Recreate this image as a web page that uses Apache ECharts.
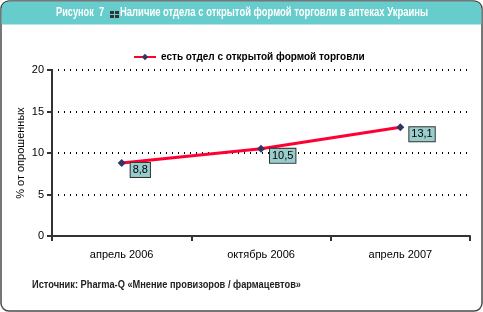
<!DOCTYPE html>
<html>
<head>
<meta charset="utf-8">
<script src="https://cdn.jsdelivr.net/npm/echarts@6/dist/echarts.min.js"></script>
<style>
  html, body { margin: 0; padding: 0; background: #fff; }
  #chart { width: 483px; height: 312px; }
</style>
</head>
<body>
<div id="chart"></div>
<script>
  // данные с рисунка
  var categories = ['апрель 2006', 'октябрь 2006', 'апрель 2007'];
  var values = [8.8, 10.5, 13.1];
  var seriesName = 'есть отдел с открытой формой торговли';
  var yTicks = [0, 5, 10, 15, 20];

  var sans = '"Liberation Sans", Arial, sans-serif';

  // узкий шрифт недоступен — сжимаем обычный по ширине
  var ctx = document.createElement('canvas').getContext('2d');
  function squeezed(text, font, x, y, width, color) {
    ctx.font = font;
    var w = ctx.measureText(text).width;
    return {
      type: 'text', z: 3, x: x, y: y, scaleX: width / w, scaleY: 1,
      style: { text: text, font: font, fill: color, verticalAlign: 'middle', align: 'left' }
    };
  }

  var chart = echarts.init(document.getElementById('chart'));

  chart.setOption({
    animation: false,
    backgroundColor: '#fff',
    graphic: [
      // рамка
      {
        type: 'rect', z: 0,
        shape: { x: 1, y: 1, width: 481, height: 310, r: 8 },
        style: { fill: '#fff', stroke: '#4a4a4a', lineWidth: 1.5 }
      },
      // заголовок
      {
        type: 'rect', z: 1,
        shape: { x: 1.5, y: 1.5, width: 480, height: 23, r: [8, 8, 0, 0] },
        style: { fill: '#66cccc' }
      },
      squeezed('Рисунок  7', 'bold 13px ' + sans, 56, 12, 48, '#fff'),
      { type: 'rect', z: 2, shape: { x: 110, y: 11, width: 4, height: 3 }, style: { fill: '#333' } },
      { type: 'rect', z: 2, shape: { x: 115, y: 11, width: 4, height: 3 }, style: { fill: '#333' } },
      { type: 'rect', z: 2, shape: { x: 110, y: 15, width: 4, height: 3 }, style: { fill: '#333' } },
      { type: 'rect', z: 2, shape: { x: 115, y: 15, width: 4, height: 3 }, style: { fill: '#333' } },
      squeezed('Наличие отдела с открытой формой торговли в аптеках Украины', 'bold 13px ' + sans, 120, 12, 308, '#fff'),
      // источник
      squeezed('Источник: Pharma-Q «Мнение провизоров / фармацевтов»', 'bold 11px ' + sans, 32, 285, 269, '#222')
    ],
    legend: {
      top: 47, left: 128,
      itemWidth: 22, itemHeight: 8, itemGap: 4,
      textStyle: { fontFamily: sans, fontWeight: 'bold', fontSize: 10, color: '#000' },
      data: [seriesName]
    },
    grid: { left: 52, right: 13, top: 70, bottom: 76, show: true, backgroundColor: '#cccccc', borderWidth: 0 },
    xAxis: {
      type: 'category',
      data: categories,
      boundaryGap: true,
      axisLine: { lineStyle: { color: '#333', width: 2 } },
      axisTick: { show: true, length: 5, lineStyle: { color: '#333', width: 2 } },
      axisLabel: { color: '#000', fontFamily: sans, fontSize: 11, margin: 13 }
    },
    yAxis: {
      type: 'value',
      min: yTicks[0], max: yTicks[yTicks.length - 1], interval: 5,
      name: '% от опрошенных',
      nameLocation: 'middle', nameGap: 26, nameMoveOverlap: false,
      nameTextStyle: { color: '#000', fontFamily: sans, fontSize: 11 },
      axisLine: { show: true, lineStyle: { color: '#333', width: 2 } },
      axisTick: { show: true, length: 5, lineStyle: { color: '#333', width: 2 } },
      axisLabel: { color: '#000', fontFamily: sans, fontSize: 11, margin: 8 },
      splitLine: { show: true, lineStyle: { color: '#000', width: 2, type: [1, 5] } }
    },
    series: [{
      name: seriesName,
      type: 'line',
      data: values,
      symbol: 'diamond',
      symbolSize: 8,
      itemStyle: { color: '#333366' },
      lineStyle: { color: '#ff0033', width: 3 },
      label: {
        show: true,
        position: 'right',
        distance: 5,
        offset: [0, 7],
        formatter: function (p) { return String(p.value).replace('.', ','); },
        color: '#000', fontFamily: sans, fontSize: 11,
        backgroundColor: '#99cccc',
        borderColor: '#333', borderWidth: 1,
        padding: [2, 2, 1, 2]
      }
    }]
  });
</script>
</body>
</html>
